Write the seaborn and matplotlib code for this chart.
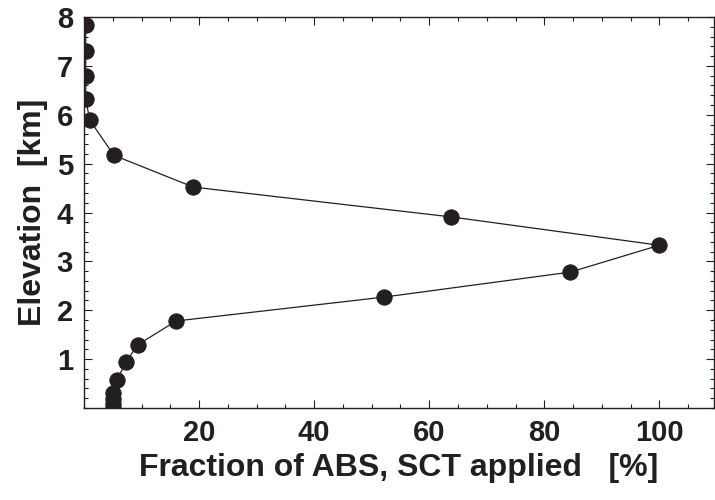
import matplotlib
matplotlib.use("Agg")
import matplotlib.pyplot as plt
import seaborn as sns
import pandas as pd
from matplotlib.ticker import MultipleLocator, FixedLocator

# data
fraction_pct = [0.3, 0.3, 0.3, 0.3, 1.0, 5.2, 19.0, 63.8, 100.0, 84.5, 52.2, 16.0, 9.3, 7.3, 5.7, 5.0, 5.0, 5.0, 5.0]
elevation_km = [7.83, 7.30, 6.79, 6.32, 5.89, 5.17, 4.52, 3.91, 3.33, 2.78, 2.27, 1.78, 1.29, 0.94, 0.57, 0.31, 0.18, 0.08, 0.0]
x_ticks = [20, 40, 60, 80, 100]
y_ticks = [1, 2, 3, 4, 5, 6, 7, 8]

sns.set_style("white")
plt.rcParams['font.family'] = ['Liberation Sans', 'DejaVu Sans']
plt.rcParams['font.weight'] = 'bold'
ink = "#231f20"
plt.rcParams['text.color'] = ink
plt.rcParams['axes.labelcolor'] = ink
plt.rcParams['xtick.color'] = ink
plt.rcParams['ytick.color'] = ink

df = pd.DataFrame({"x": fraction_pct, "y": elevation_km})

fig = plt.figure(figsize=(7.15, 5.0), dpi=100)
ax = fig.add_axes([84/715, 1-408/500, (714-84)/715, (408-17)/500])
sns.lineplot(data=df, x="x", y="y", sort=False, estimator=None, ax=ax, color=ink,
             linewidth=0.9, marker="o", markersize=11, markeredgecolor=ink,
             markerfacecolor=ink)

ax.set_xlim(0, 109.5)
ax.set_ylim(0, 8)
ax.xaxis.set_major_locator(FixedLocator(x_ticks))
ax.yaxis.set_major_locator(FixedLocator(y_ticks))
ax.xaxis.set_minor_locator(MultipleLocator(5))
ax.yaxis.set_minor_locator(MultipleLocator(0.2))
ax.tick_params(which="both", direction="in", top=True, right=True, bottom=True, left=True,
               color=ink, width=0.8)
ax.tick_params(which="major", length=6, labelsize=21, pad=8)
ax.tick_params(which="minor", length=3)
for lab in ax.get_xticklabels() + ax.get_yticklabels():
    lab.set_fontweight("bold")
for s in ax.spines.values():
    s.set_color(ink)
    s.set_linewidth(1.0)

ax.set_xlabel("Fraction of ABS, SCT applied   [%]", fontsize=23, fontweight="bold", labelpad=4)
ax.set_ylabel("Elevation  [km]", fontsize=23, fontweight="bold", labelpad=6)

fig.savefig("out.png", dpi=100)
